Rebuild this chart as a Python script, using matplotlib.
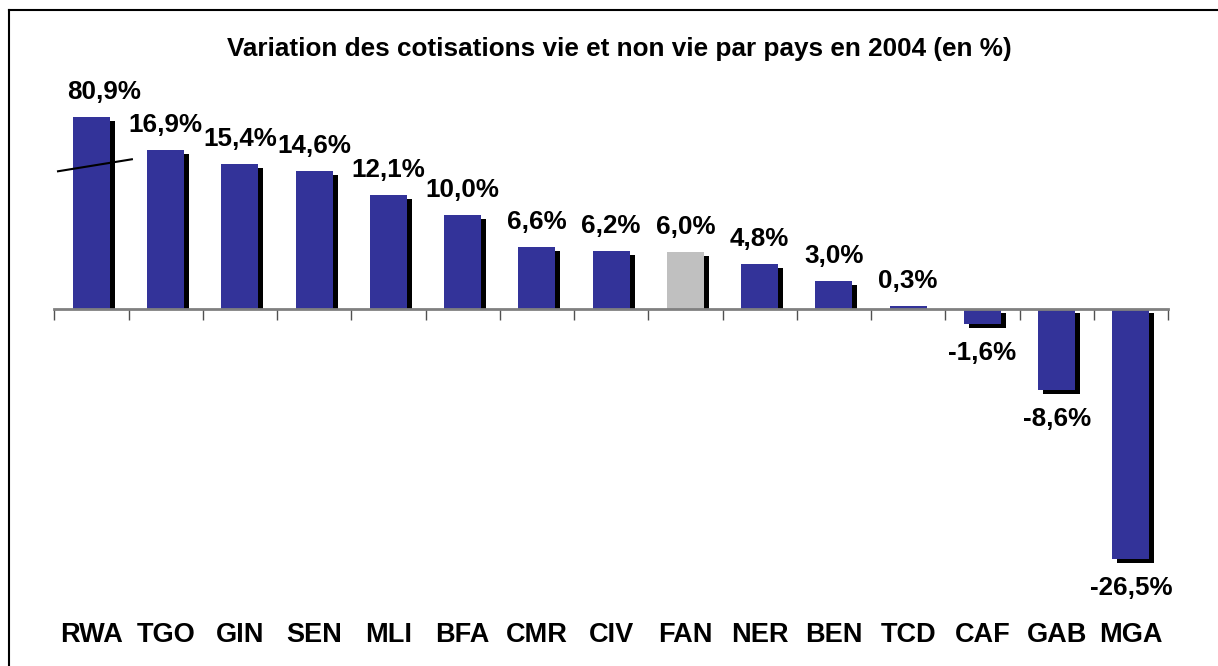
import numpy as np
import matplotlib
matplotlib.use("Agg")
import matplotlib.pyplot as plt
from matplotlib import transforms
from matplotlib.lines import Line2D

plt.rcParams['font.family'] = ['Liberation Sans', 'DejaVu Sans']

# donnees
pays = ['RWA', 'TGO', 'GIN', 'SEN', 'MLI', 'BFA', 'CMR', 'CIV',
        'FAN', 'NER', 'BEN', 'TCD', 'CAF', 'GAB', 'MGA']
variation = [80.9, 16.9, 15.4, 14.6, 12.1, 10.0, 6.6, 6.2,
             6.0, 4.8, 3.0, 0.3, -1.6, -8.6, -26.5]
plafond = 20.4  # la barre RWA est coupee sur le graphique
titre = "Variation des cotisations vie et non vie par pays en 2004 (en %)"

bleu = '#333399'
gris = '#C0C0C0'

x = np.arange(len(pays))
hauteur = np.minimum(variation, plafond)
couleurs = [gris if p == 'FAN' else bleu for p in pays]

fig = plt.figure(figsize=(12.18, 6.66), dpi=100)
ax = fig.add_axes([54.3 / 1218, 74 / 666, (1168 - 54.3) / 1218, 493 / 666])
ax.set_xlim(-0.5, len(pays) - 0.5)
ax.set_ylim(-30.04, 22.29)

# ombre portee des barres (decalee de 5 px a droite, 4 px vers le bas)
px = 52.33 / 493  # unites de donnees par pixel
ombre = transforms.offset_copy(ax.transData, fig=fig, x=5, y=-4, units='dots')
bas_ombre = np.where(hauteur > 0, 4 * px, 0)
ax.bar(x, hauteur - bas_ombre, width=0.5, bottom=bas_ombre, color='black',
       transform=ombre, zorder=1)
ax.bar(x, hauteur, width=0.5, color=couleurs, zorder=2)

# etiquettes de valeurs
for i, (h, v) in enumerate(zip(hauteur, variation)):
    txt = f"{v:.1f}%".replace('.', ',')
    dx = 13 if v > plafond else 0
    if v >= 0:
        ax.annotate(txt, (i, h), xytext=(dx * 0.72, 18 * 0.72), textcoords='offset points',
                    ha='center', va='baseline', fontsize=18.7, fontweight='bold')
    else:
        ax.annotate(txt, (i, h), xytext=(0, -17 * 0.72), textcoords='offset points',
                    ha='center', va='top', fontsize=18.7, fontweight='bold')

# trait de coupure sur RWA
ax.plot([-0.45, 0.545], [(309 - 171.3) / 9.42, (309 - 159.3) / 9.42],
        color='black', lw=1.5, zorder=3, clip_on=False)

# axe horizontal a zero avec graduations entre les categories
for s in ['left', 'right', 'top']:
    ax.spines[s].set_visible(False)
ax.spines['bottom'].set_position(('data', 0))
ax.spines['bottom'].set_color('#808080')
ax.spines['bottom'].set_linewidth(2)
ax.spines['bottom'].set_zorder(2.5)
ax.set_xticks(np.arange(len(pays) + 1) - 0.5)
ax.set_xticklabels([])
ax.tick_params(axis='x', direction='out', length=8, width=1, color='#505050')
ax.set_yticks([])

for i, p in enumerate(pays):
    ax.text(i, -0.1014, p, transform=ax.get_xaxis_transform(), ha='center',
            va='baseline', fontsize=19.5, fontweight='bold')

fig.text(619 / 1218, 1 - 56 / 666, titre, ha='center', va='baseline',
         fontsize=18.8, fontweight='bold')

# cadre (bords gauche et haut visibles)
fig.add_artist(Line2D([9 / 1218, 9 / 1218], [0, 1 - 10 / 666], color='black', lw=1.5))
fig.add_artist(Line2D([9 / 1218, 1], [1 - 10 / 666, 1 - 10 / 666], color='black', lw=1.5))

fig.savefig('out.png', dpi=100)
